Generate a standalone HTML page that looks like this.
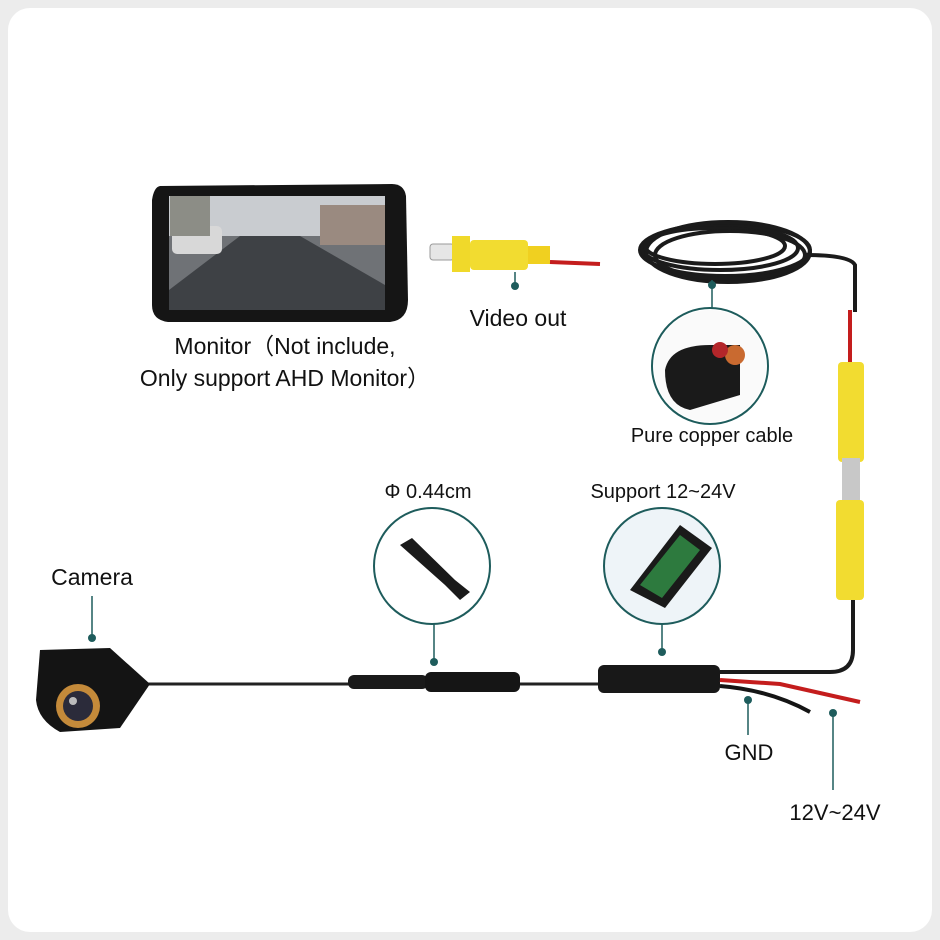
<!DOCTYPE html>
<html><head><meta charset="utf-8"><style>
html,body{margin:0;padding:0;background:#ececec;}
svg{display:block}
text{font-family:"Liberation Sans",sans-serif;fill:#111}
</style></head><body>
<svg width="940" height="940" viewBox="0 0 940 940">
<rect x="0" y="0" width="940" height="940" fill="#ececec"/>
<rect x="8" y="8" width="924" height="924" rx="22" fill="#fff"/>
<!-- Monitor -->
<path d="M160 186 L392 184 Q404 184 406 196 L408 300 Q408 320 390 322 L168 322 Q152 320 152 305 L152 200 Q154 187 160 186Z" fill="#151515"/>
<rect x="169" y="196" width="216" height="114" fill="#6f7276"/>
<rect x="169" y="196" width="216" height="40" fill="#c9ccd0"/>
<polygon points="169,290 240,236 300,236 385,285 385,310 169,310" fill="#3e4145"/>
<rect x="172" y="226" width="50" height="28" rx="5" fill="#d8d8d8"/>
<rect x="320" y="205" width="65" height="40" fill="#9a8a80"/>
<rect x="170" y="196" width="40" height="40" fill="#8c8d86"/>
<text x="285" y="354" font-size="23" text-anchor="middle">Monitor（Not include,</text>
<text x="285" y="386" font-size="23" text-anchor="middle">Only support AHD Monitor）</text>
<!-- RCA video out -->
<rect x="430" y="244" width="24" height="16" rx="3" fill="#e6e6e6" stroke="#999"/>
<rect x="452" y="236" width="18" height="36" fill="#f0d92a"/>
<rect x="470" y="240" width="58" height="30" rx="4" fill="#f2dc30"/>
<rect x="528" y="246" width="22" height="18" fill="#f0d020"/>
<line x1="550" y1="262" x2="600" y2="264" stroke="#c41d1d" stroke-width="4"/>
<line x1="515" y1="272" x2="515" y2="286" stroke="#1e5c5c" stroke-width="1.5"/>
<circle cx="515" cy="286" r="4" fill="#1e5c5c"/>
<text x="518" y="326" font-size="23" text-anchor="middle">Video out</text>
<!-- coil -->
<g fill="none" stroke="#1b1b1b" stroke-width="4">
<ellipse cx="725" cy="250" rx="85" ry="26"/>
<ellipse cx="720" cy="248" rx="78" ry="22"/>
<ellipse cx="728" cy="252" rx="82" ry="30"/>
<ellipse cx="715" cy="246" rx="70" ry="18"/>
<ellipse cx="730" cy="255" rx="75" ry="24"/>
</g>
<path d="M805 255 Q850 255 855 265 L855 312" fill="none" stroke="#1b1b1b" stroke-width="4"/>
<line x1="712" y1="280" x2="712" y2="310" stroke="#1e5c5c" stroke-width="1.5"/>
<circle cx="712" cy="285" r="4" fill="#1e5c5c"/>
<circle cx="710" cy="366" r="58" fill="#fff" stroke="#1e5c5c" stroke-width="2"/>
<circle cx="710" cy="366" r="56" fill="#fafafa"/>
<path d="M665 370 Q670 345 710 345 L740 345 L740 395 L690 410 Q665 405 665 370Z" fill="#1a1a1a"/>
<circle cx="735" cy="355" r="10" fill="#c96a30"/>
<circle cx="720" cy="350" r="8" fill="#b3262a"/>
<text x="712" y="442" font-size="20" text-anchor="middle">Pure copper cable</text>
<!-- vertical RCA -->
<line x1="850" y1="310" x2="850" y2="362" stroke="#c41d1d" stroke-width="4"/>
<rect x="838" y="362" width="26" height="100" rx="4" fill="#f2dc30"/>
<rect x="842" y="458" width="18" height="44" fill="#c8c8c8"/>
<rect x="836" y="500" width="28" height="100" rx="4" fill="#f2dc30"/>
<path d="M853 600 L853 650 Q853 672 830 672 L720 672" fill="none" stroke="#1b1b1b" stroke-width="4"/>
<!-- main cable -->
<line x1="145" y1="684" x2="600" y2="684" stroke="#222" stroke-width="3"/>
<rect x="348" y="675" width="80" height="14" rx="6" fill="#1a1a1a"/>
<rect x="425" y="672" width="95" height="20" rx="6" fill="#151515"/>
<rect x="598" y="665" width="122" height="28" rx="6" fill="#181818"/>
<path d="M720 680 L780 684 L860 702" fill="none" stroke="#c41d1d" stroke-width="4"/>
<path d="M720 686 Q770 690 810 712" fill="none" stroke="#151515" stroke-width="4"/>
<!-- camera -->
<path d="M40 650 L110 648 L150 684 L120 728 L60 732 Q38 720 36 700Z" fill="#141414"/>
<circle cx="78" cy="706" r="22" fill="#c48a3a"/>
<circle cx="78" cy="706" r="15" fill="#2b2b3a"/>
<circle cx="73" cy="701" r="4" fill="#bbb"/>
<text x="92" y="585" font-size="23" text-anchor="middle">Camera</text>
<line x1="92" y1="596" x2="92" y2="638" stroke="#1e5c5c" stroke-width="1.5"/>
<circle cx="92" cy="638" r="4" fill="#1e5c5c"/>
<!-- circles bottom -->
<text x="428" y="498" font-size="20" text-anchor="middle">Φ 0.44cm</text>
<circle cx="432" cy="566" r="58" fill="#fff" stroke="#1e5c5c" stroke-width="2"/>
<path d="M400 545 L445 585 L460 600 L470 592 L455 580 L412 538Z" fill="#1a1a1a"/>
<line x1="434" y1="624" x2="434" y2="662" stroke="#1e5c5c" stroke-width="1.5"/>
<circle cx="434" cy="662" r="4" fill="#1e5c5c"/>
<text x="663" y="498" font-size="20" text-anchor="middle">Support 12~24V</text>
<circle cx="662" cy="566" r="58" fill="#eef4f8" stroke="#1e5c5c" stroke-width="2"/>
<path d="M630 590 L680 525 L712 548 L665 608Z" fill="#1a1a1a"/>
<path d="M640 585 L680 535 L700 550 L662 598Z" fill="#2d7a3e"/>
<line x1="662" y1="624" x2="662" y2="652" stroke="#1e5c5c" stroke-width="1.5"/>
<circle cx="662" cy="652" r="4" fill="#1e5c5c"/>
<line x1="748" y1="700" x2="748" y2="735" stroke="#1e5c5c" stroke-width="1.5"/>
<circle cx="748" cy="700" r="4" fill="#1e5c5c"/>
<text x="749" y="760" font-size="22" text-anchor="middle">GND</text>
<line x1="833" y1="713" x2="833" y2="790" stroke="#1e5c5c" stroke-width="1.5"/>
<circle cx="833" cy="713" r="4" fill="#1e5c5c"/>
<text x="835" y="820" font-size="22" text-anchor="middle">12V~24V</text>
</svg>
</body></html>
